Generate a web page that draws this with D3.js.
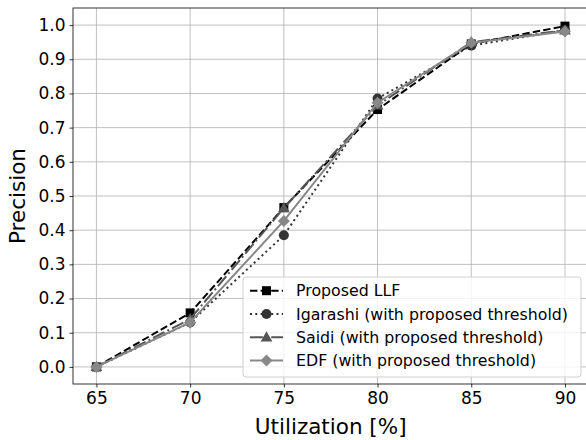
<!DOCTYPE html>
<html>
<head>
<meta charset="utf-8">
<script src="https://cdn.jsdelivr.net/npm/d3@7"></script>
<style>
  body { margin: 0; background: #fff; }
  svg { display: block; font-family: "DejaVu Sans", sans-serif; }
</style>
</head>
<body>
<svg width="586" height="440"></svg>
<script>
"use strict";

// utilization levels and precision for each scheduler
var utilization = [65, 70, 75, 80, 85, 90];
var llf      = [0.0, 0.158, 0.466, 0.753, 0.945, 0.997];
var igarashi = [0.0, 0.130, 0.385, 0.785, 0.940, 0.985];
var saidi    = [0.0, 0.140, 0.465, 0.765, 0.950, 0.985];
var edf      = [0.0, 0.130, 0.427, 0.773, 0.948, 0.981];
var yTicks = [0.0, 0.1, 0.2, 0.3, 0.4, 0.5, 0.6, 0.7, 0.8, 0.9, 1.0];
var xTicks = [65, 70, 75, 80, 85, 90];

var series = [
  {name: "Proposed LLF", values: llf, color: "#000000", dash: "7.4,3.2", marker: "square"},
  {name: "Igarashi (with proposed threshold)", values: igarashi, color: "#333333", dash: "2,3.3", marker: "circle"},
  {name: "Saidi (with proposed threshold)", values: saidi, color: "#555555", dash: "12.8,3.2,2,3.2", marker: "triangle"},
  {name: "EDF (with proposed threshold)", values: edf, color: "#888888", dash: null, marker: "diamond"}
];

var svg = d3.select("svg");
var plotL = 73, plotT = 8, plotR = 588.4, plotB = 384;

var x = d3.scaleLinear().domain([63.75, 91.25]).range([plotL, plotR]);
var y = d3.scaleLinear().domain([-0.05, 1.05]).range([plotB, plotT]);

// grid
svg.append("g").selectAll("line").data(xTicks).enter().append("line")
  .attr("x1", d => x(d)).attr("x2", d => x(d))
  .attr("y1", plotT).attr("y2", plotB)
  .attr("stroke", "#b0b0b0").attr("stroke-width", 0.8);
svg.append("g").selectAll("line").data(yTicks).enter().append("line")
  .attr("x1", plotL).attr("x2", plotR)
  .attr("y1", d => y(d)).attr("y2", d => y(d))
  .attr("stroke", "#b0b0b0").attr("stroke-width", 0.8);

// axes
var xAxis = svg.append("g").attr("transform", "translate(0," + plotB + ")")
  .call(d3.axisBottom(x).tickValues(xTicks).tickSize(3.5).tickPadding(4).tickFormat(d3.format("d")));
var yAxis = svg.append("g").attr("transform", "translate(" + plotL + ",0)")
  .call(d3.axisLeft(y).tickValues(yTicks).tickSize(3.5).tickPadding(4).tickFormat(d3.format(".1f")));
[xAxis, yAxis].forEach(function(a){
  a.select(".domain").remove();
  a.selectAll("text").attr("font-size", 17).attr("fill", "#000").attr("font-family", "DejaVu Sans");
  a.selectAll("line").attr("stroke", "#000").attr("stroke-width", 0.8);
});

svg.append("rect").attr("x", plotL).attr("y", plotT)
  .attr("width", plotR - plotL).attr("height", plotB - plotT)
  .attr("fill", "none").attr("stroke", "#000").attr("stroke-width", 0.8);

// labels
svg.append("text").attr("x", (plotL + plotR) / 2).attr("y", 434)
  .attr("text-anchor", "middle").attr("font-size", 21.5).text("Utilization [%]");
svg.append("text").attr("transform", "translate(25," + (plotT + plotB) / 2 + ") rotate(-90)")
  .attr("text-anchor", "middle").attr("font-size", 21.5).text("Precision");

function drawMarker(g, type, cx, cy, color) {
  if (type === "square") {
    g.append("rect").attr("x", cx - 4.5).attr("y", cy - 4.5).attr("width", 9).attr("height", 9).attr("fill", color);
  } else if (type === "circle") {
    g.append("circle").attr("cx", cx).attr("cy", cy).attr("r", 5).attr("fill", color);
  } else if (type === "triangle") {
    g.append("path").attr("d", d3.symbol().type(d3.symbolTriangle).size(60)()).attr("transform", "translate(" + cx + "," + (cy + 0.8) + ")").attr("fill", color);
  } else {
    g.append("path").attr("d", "M0,-6L6,0L0,6L-6,0Z").attr("transform", "translate(" + cx + "," + cy + ")").attr("fill", color);
  }
}

var line = d3.line().x((d, i) => x(utilization[i])).y(d => y(d));

series.forEach(function(s) {
  var g = svg.append("g");
  g.append("path").datum(s.values).attr("d", line)
    .attr("fill", "none").attr("stroke", s.color).attr("stroke-width", 2)
    .attr("stroke-dasharray", s.dash);
  s.values.forEach(function(v, i) { drawMarker(g, s.marker, x(utilization[i]), y(v), s.color); });
});

// legend
var lg = svg.append("g");
lg.append("rect").attr("x", 243).attr("y", 277).attr("width", 338).attr("height", 100).attr("rx", 3)
  .attr("fill", "#fff").attr("fill-opacity", 0.8).attr("stroke", "#d0d0d0").attr("stroke-width", 1);
series.forEach(function(s, i) {
  var cy = 290.7 + i * 23.3;
  lg.append("line").attr("x1", 250).attr("x2", 283).attr("y1", cy).attr("y2", cy)
    .attr("stroke", s.color).attr("stroke-width", 2).attr("stroke-dasharray", s.dash);
  drawMarker(lg, s.marker, 266.5, cy, s.color);
  lg.append("text").attr("x", 296).attr("y", cy + 5.6).attr("font-size", 15.8).text(s.name);
});
</script>
</body>
</html>
